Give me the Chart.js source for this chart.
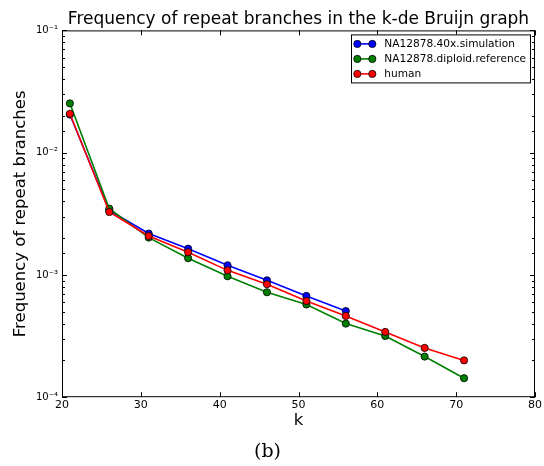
<!DOCTYPE html>
<html>
<head>
<meta charset="utf-8">
<script src="https://cdn.jsdelivr.net/npm/chart.js@4"></script>
<style>
  html, body { margin: 0; padding: 0; background: #fff; }
</style>
</head>
<body>
<canvas id="chart" width="544" height="466"></canvas>
<script>
// k values along the x axis
const kValues = [21, 26, 31, 36, 41, 46, 51, 56, 61, 66, 71];

// frequency of repeat branches
const simulation = [0.0205, 0.00337, 0.00218, 0.00164, 0.00120, 0.000904, 0.000673, 0.000507];
const diploidRef = [0.0253, 0.00348, 0.00202, 0.00137, 0.000975, 0.000722, 0.000573, 0.000400, 0.000317, 0.000215, 0.000143];
const human = [0.0208, 0.00327, 0.00208, 0.00153, 0.00109, 0.000839, 0.000612, 0.000462, 0.000342, 0.000253, 0.000200];

const seriesNames = ['NA12878.40x.simulation', 'NA12878.diploid.reference', 'human'];
const seriesColors = ['#0000ff', '#008000', '#ff0000'];
const xTicks = [20, 30, 40, 50, 60, 70, 80];

const FONT = '"DejaVu Sans", sans-serif';
const SUP = { '-': '\u207b', '0': '\u2070', '1': '\u00b9', '2': '\u00b2', '3': '\u00b3', '4': '\u2074', '5': '\u2075' };

const toPoints = vals => vals.map((v, i) => ({ x: kValues[i], y: v }));

const makeSet = (idx, vals, order) => ({
  label: seriesNames[idx],
  data: toPoints(vals),
  borderColor: seriesColors[idx],
  backgroundColor: seriesColors[idx],
  borderWidth: 1.6,
  pointRadius: 3.6,
  pointBorderWidth: 0.8,
  pointBorderColor: '#000',
  pointBackgroundColor: seriesColors[idx],
  tension: 0,
  order: order,
});

const isDecade = v => {
  const e = Math.log10(v);
  return Math.abs(e - Math.round(e)) < 1e-6;
};

// frame + inward ticks on all four sides (matplotlib classic look)
const framePlugin = {
  id: 'frame',
  afterDraw(chart) {
    const { ctx, chartArea: a, scales: { x, y } } = chart;
    ctx.save();
    ctx.strokeStyle = '#000';
    ctx.lineWidth = 1;
    ctx.strokeRect(a.left + 0.5, a.top + 0.5, a.right - a.left - 1, a.bottom - a.top - 1);
    const seg = (x1, y1, x2, y2) => { ctx.beginPath(); ctx.moveTo(x1, y1); ctx.lineTo(x2, y2); ctx.stroke(); };
    x.ticks.forEach(t => {
      const px = Math.round(x.getPixelForValue(t.value)) + 0.5;
      seg(px, a.bottom, px, a.bottom - 5);
      seg(px, a.top, px, a.top + 5);
    });
    y.ticks.forEach(t => {
      const len = isDecade(t.value) ? 5 : 3;
      const py = Math.round(y.getPixelForValue(t.value)) + 0.5;
      seg(a.left, py, a.left + len, py);
      seg(a.right, py, a.right - len, py);
    });
    ctx.restore();
  }
};

// legend box in the upper right, line with a marker at each end
const legendPlugin = {
  id: 'boxLegend',
  afterDraw(chart) {
    const { ctx, chartArea: a } = chart;
    const sets = chart.data.datasets;
    ctx.save();
    ctx.font = '10.6px ' + FONT;
    const textW = Math.max(...sets.map(d => ctx.measureText(d.label).width));
    const w = 33 + textW + 4;
    const h = 48;
    const x0 = a.right - 5 - w;
    const y0 = a.top + 4;
    ctx.fillStyle = '#fff';
    ctx.fillRect(x0, y0, w, h);
    ctx.strokeStyle = '#000';
    ctx.lineWidth = 1;
    ctx.strokeRect(Math.round(x0) + 0.5, y0 + 0.5, Math.round(w), h);
    sets.forEach((d, i) => {
      const ry = y0 + 9.5 + i * 15;
      ctx.strokeStyle = d.borderColor;
      ctx.lineWidth = 1.6;
      ctx.beginPath(); ctx.moveTo(x0 + 6, ry); ctx.lineTo(x0 + 21, ry); ctx.stroke();
      [x0 + 6, x0 + 21].forEach(cx => {
        ctx.beginPath();
        ctx.arc(cx, ry, 3.6, 0, Math.PI * 2);
        ctx.fillStyle = d.borderColor;
        ctx.fill();
        ctx.strokeStyle = '#000';
        ctx.lineWidth = 0.8;
        ctx.stroke();
      });
      ctx.fillStyle = '#000';
      ctx.textBaseline = 'middle';
      ctx.textAlign = 'left';
      ctx.fillText(d.label, x0 + 33, ry);
    });
    ctx.restore();
  }
};

new Chart(document.getElementById('chart').getContext('2d'), {
  type: 'line',
  data: {
    datasets: [
      makeSet(0, simulation, 3),
      makeSet(1, diploidRef, 2),
      makeSet(2, human, 1),
    ],
  },
  options: {
    responsive: false,
    animation: false,
    devicePixelRatio: 1,
    layout: { padding: { left: 0, right: 9, top: 0, bottom: 0 } },
    plugins: {
      legend: { display: false },
      tooltip: { enabled: false },
      title: {
        display: true,
        text: 'Frequency of repeat branches in the k-de Bruijn graph',
        fullSize: false,
        color: '#000',
        font: { family: FONT, size: 17, weight: 'normal' },
        padding: { top: 9, bottom: 1 },
      },
      subtitle: {
        display: true,
        position: 'bottom',
        text: '(b)',
        color: '#000',
        font: { family: '"DejaVu Serif", serif', size: 19, weight: 'normal' },
        padding: { top: 7, bottom: 3 },
      },
    },
    scales: {
      x: {
        type: 'linear',
        min: 20,
        max: 80,
        afterBuildTicks: s => { s.ticks = xTicks.map(v => ({ value: v })); },
        ticks: { color: '#000', font: { family: FONT, size: 11 }, padding: 1, maxRotation: 0 },
        grid: { display: false, drawTicks: false },
        border: { display: false },
        title: { display: true, text: 'k', color: '#000', font: { family: FONT, size: 16.5 }, padding: { top: 0, bottom: 3 } },
        afterFit: s => { s.height = 36; },
      },
      y: {
        type: 'logarithmic',
        min: 1e-4,
        max: 1e-1,
        ticks: {
          color: '#000',
          font: { family: FONT, size: 10 },
          padding: 4,
          autoSkip: false,
          callback: v => {
            if (!isDecade(v)) return '';
            const e = String(Math.round(Math.log10(v)));
            return '10' + e.split('').map(c => SUP[c]).join('');
          },
        },
        grid: { display: false, drawTicks: false },
        border: { display: false },
        title: { display: true, text: 'Frequency of repeat branches', color: '#000', font: { family: FONT, size: 16.5 }, padding: { top: 11, bottom: 0 } },
        afterFit: s => { s.width = 62; },
      },
    },
  },
  plugins: [framePlugin, legendPlugin],
});
</script>
</body>
</html>
